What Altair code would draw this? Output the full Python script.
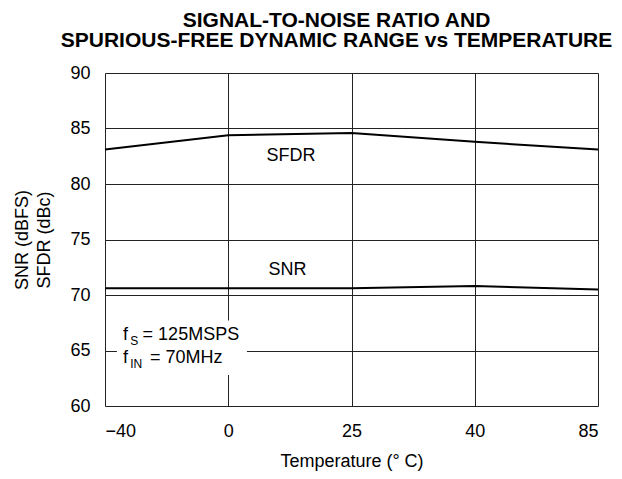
import altair as alt
import pandas as pd

# ---- data ----
temp_labels = ["\u221240", "0", "25", "40", "85"]
temp_index = [0, 1, 2, 3, 4]
sfdr = [83.1, 84.4, 84.6, 83.8, 83.1]
snr = [70.6, 70.6, 70.6, 70.8, 70.5]

series_labels = ["SFDR", "SNR"]
series_label_x = [1.51, 1.48]
series_label_y = [82.1, 71.8]

# annotation box and text (x in temperature-index units, y in dB)
box_x = [0.097]
box_x2 = [1.152]
box_y = [67.7]
box_y2 = [62.8]

note_text = ["f", "S", "= 125MSPS", "f", "IN", "= 70MHz"]
note_x = [0.146, 0.205, 0.305, 0.146, 0.205, 0.365]
note_y = [65.95, 65.5, 65.95, 63.87, 63.42, 63.87]
note_size = [18, 12, 18, 18, 12, 18]

FONT = "Liberation Sans"

rows = []
for i, t in zip(temp_index, temp_labels):
    rows.append({"idx": i, "temp": t, "series": "SFDR", "value": sfdr[i]})
    rows.append({"idx": i, "temp": t, "series": "SNR", "value": snr[i]})
line_df = pd.DataFrame(rows)

label_expr = "[" + ",".join("'" + t + "'" for t in temp_labels) + "][datum.value]"

x_scale = alt.Scale(domain=[0, 4], nice=False, zero=False)
y_scale = alt.Scale(domain=[60, 90], nice=False, zero=False)

x_axis = alt.Axis(values=temp_index, labelExpr=label_expr, title="Temperature (\u00b0 C)",
                  grid=True, gridColor="#222", gridWidth=1, domain=False, ticks=False,
                  labelFontSize=18, labelPadding=16, labelFont=FONT, labelColor="black",
                  titleFontSize=18, titleFont=FONT, titleFontWeight="normal",
                  titlePadding=12, titleColor="black")
y_axis = alt.Axis(values=[60, 65, 70, 75, 80, 85, 90], title=["SNR (dBFS)", "SFDR (dBc)"],
                  grid=True, gridColor="#222", gridWidth=1, domain=False, ticks=False,
                  labelFontSize=18, labelPadding=15, labelFont=FONT, labelColor="black",
                  titleFontSize=18, titleFont=FONT, titleFontWeight="normal",
                  titlePadding=16, titleColor="black", titleLineHeight=22)

base_x = alt.X("idx:Q", scale=x_scale, axis=x_axis)
base_y = alt.Y("value:Q", scale=y_scale, axis=y_axis)

lines = alt.Chart(line_df).mark_line(color="black", strokeWidth=2).encode(
    x=base_x, y=base_y, detail="series:N"
)

box_df = pd.DataFrame({"x": box_x, "x2": box_x2, "y": box_y, "y2": box_y2})
box = alt.Chart(box_df).mark_rect(fill="white").encode(
    x=alt.X("x:Q", scale=x_scale), x2="x2:Q",
    y=alt.Y("y:Q", scale=y_scale), y2="y2:Q"
)

lab_df = pd.DataFrame({"x": series_label_x, "y": series_label_y, "t": series_labels})
labels = alt.Chart(lab_df).mark_text(font=FONT, fontSize=18, color="black",
                                     align="center", baseline="alphabetic").encode(
    x=alt.X("x:Q", scale=x_scale), y=alt.Y("y:Q", scale=y_scale), text="t:N"
)

note_df = pd.DataFrame({"x": note_x, "y": note_y, "t": note_text, "s": note_size})
notes = alt.Chart(note_df).mark_text(font=FONT, color="black", align="left",
                                     baseline="alphabetic").encode(
    x=alt.X("x:Q", scale=x_scale), y=alt.Y("y:Q", scale=y_scale), text="t:N",
    size=alt.Size("s:Q", scale=None, legend=None)
)

chart = alt.layer(box, lines, labels, notes).properties(
    width=493, height=333,
    autosize=alt.AutoSizeParams(type="none"),
    padding={"left": 97, "top": 65, "right": 16, "bottom": 65},
    title=alt.TitleParams(
        text=["SIGNAL-TO-NOISE RATIO AND", "SPURIOUS-FREE DYNAMIC RANGE vs TEMPERATURE"],
        font=FONT, fontSize=21, fontWeight="bold", color="black",
        anchor="middle", frame="group", dx=-15, offset=13, lineHeight=20
    )
).configure_view(stroke="black", strokeWidth=2).configure(background="white")

chart.save("out.html", embed_options={"renderer": "svg", "actions": False})
